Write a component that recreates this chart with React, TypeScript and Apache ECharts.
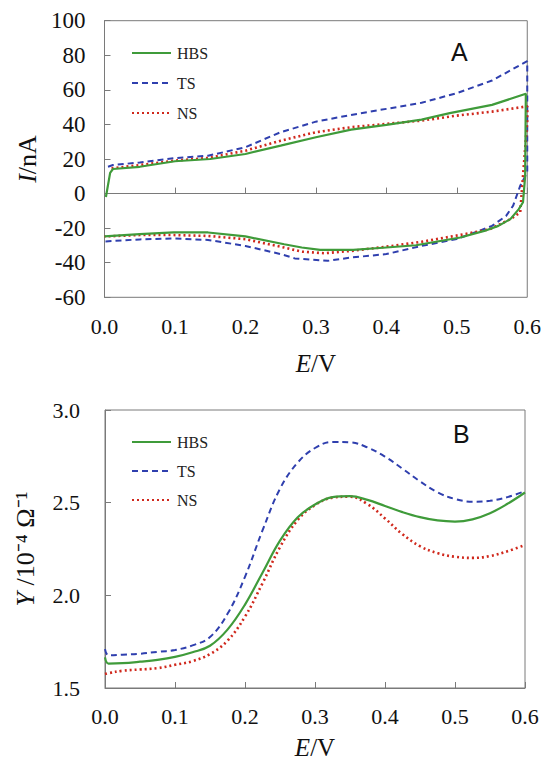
import React, { useEffect, useRef } from "react";
import * as echarts from "echarts";

// ---------- Panel A: cyclic voltammograms (E / V, I / nA) ----------
const hbsAE = [0.002, 0.008, 0.012, 0.05, 0.1, 0.15, 0.2, 0.25, 0.3, 0.35, 0.4, 0.45, 0.49, 0.55, 0.598, 0.597, 0.594, 0.588, 0.576, 0.559, 0.539, 0.505, 0.442, 0.4, 0.353, 0.306, 0.28, 0.255, 0.2, 0.147, 0.098, 0.05, 0.0];
const hbsAI = [-2, 12, 14.2, 15.5, 18.7, 20, 22.9, 27.7, 32.6, 37, 39.7, 42.8, 46.5, 51.3, 57.7, 10, -5, -9, -14.8, -18.7, -21.6, -25.4, -29.9, -31.2, -32.6, -32.6, -31.2, -29.3, -24.8, -22.5, -22.5, -23.4, -24.8];

const tsAE = [0.005, 0.012, 0.05, 0.098, 0.147, 0.2, 0.25, 0.3, 0.35, 0.4, 0.45, 0.5, 0.55, 0.6, 0.6, 0.59, 0.58, 0.57, 0.55, 0.52, 0.5, 0.45, 0.4, 0.35, 0.317, 0.27, 0.25, 0.2, 0.147, 0.098, 0.05, 0.0];
const tsAI = [15.5, 16.5, 18, 20.4, 21.9, 26.8, 35.5, 41.6, 45.5, 49, 52.5, 58.1, 65.4, 76.6, 12.3, 4.5, -7, -12.9, -18.7, -23.4, -26.3, -30.3, -35, -37, -38.9, -37.5, -35, -30.3, -26.8, -26, -26.5, -27.7];

const nsAE = [0.01, 0.05, 0.098, 0.147, 0.2, 0.25, 0.3, 0.35, 0.4, 0.45, 0.5, 0.55, 0.6, 0.6, 0.59, 0.576, 0.547, 0.512, 0.45, 0.4, 0.35, 0.312, 0.28, 0.255, 0.2, 0.147, 0.098, 0.05, 0.0];
const nsAI = [14.6, 16.5, 19, 20.6, 24.8, 30.6, 35.5, 38.4, 40.3, 42.2, 45.1, 47.4, 50.5, 42, -10.9, -14.8, -20.6, -23.4, -27.9, -30.7, -33.2, -34.5, -33.6, -31.2, -26.4, -24.5, -24, -24, -24.8];

// ---------- Panel B: admittance (E / V, Y / 10^-4 Ω^-1) ----------
const eB = [0, 0.005, 0.025, 0.05, 0.075, 0.1, 0.125, 0.15, 0.175, 0.2, 0.225, 0.25, 0.275, 0.3, 0.325, 0.35, 0.375, 0.4, 0.425, 0.45, 0.475, 0.5, 0.525, 0.55, 0.575, 0.6];
const hbsBY = [1.665, 1.632, 1.634, 1.642, 1.652, 1.668, 1.693, 1.728, 1.815, 1.95, 2.122, 2.295, 2.42, 2.49, 2.53, 2.535, 2.515, 2.482, 2.449, 2.422, 2.404, 2.398, 2.41, 2.443, 2.494, 2.555];
const tsBY = [1.71, 1.676, 1.68, 1.685, 1.695, 1.705, 1.73, 1.775, 1.9, 2.1, 2.35, 2.575, 2.715, 2.795, 2.828, 2.826, 2.798, 2.748, 2.683, 2.615, 2.556, 2.52, 2.505, 2.51, 2.53, 2.562];
const nsBY = [1.575, 1.58, 1.593, 1.6, 1.607, 1.625, 1.645, 1.683, 1.755, 1.885, 2.065, 2.26, 2.405, 2.487, 2.527, 2.532, 2.492, 2.415, 2.33, 2.265, 2.228, 2.208, 2.202, 2.212, 2.238, 2.272];

const seriesNames = ["HBS", "TS", "NS"];

const pairs = (xs: number[], ys: number[]) => xs.map((x, i) => [x, ys[i]]);

const SERIF = "Liberation Serif";
const GREEN = "#3f9b3a";
const BLUE = "#2f3fae";
const RED = "#d0281c";
const AXIS = "#7a7a7a";
const TEXT = "#111";

export default function App() {
  const ref = useRef<HTMLDivElement>(null);

  useEffect(() => {
    if (!ref.current) return;
    const chart = echarts.init(ref.current, undefined, { renderer: "svg" });

    const axisCommon = {
      axisLine: { show: true, lineStyle: { color: AXIS, width: 1 } },
      axisTick: { show: true, inside: true, length: 6, lineStyle: { color: AXIS } },
      splitLine: { show: false },
    };

    const italicName = (size: number) => ({
      fontFamily: SERIF,
      fontSize: size,
      color: TEXT,
      rich: { i: { fontFamily: SERIF, fontSize: size, fontStyle: "italic", color: TEXT } },
    });

    const xAxisFor = (gridIndex: number, gap: number, margin: number) => ({
      type: "value",
      gridIndex,
      min: 0,
      max: 0.6,
      interval: 0.1,
      ...axisCommon,
      axisLabel: {
        margin,
        fontFamily: SERIF,
        fontSize: 22,
        color: TEXT,
        formatter: (v: number) => v.toFixed(1),
      },
      name: "{i|E}/V",
      nameLocation: "middle",
      nameGap: gap,
      nameTextStyle: italicName(25),
    });

    const lineStyleFor = (name: string) => {
      if (name === "HBS") return { color: GREEN, width: 2.2, type: "solid" };
      if (name === "TS") return { color: BLUE, width: 2, type: [6, 4] };
      return { color: RED, width: 2.6, type: [2, 3] };
    };

    const mkSeries = (name: string, idx: number, data: number[][], smooth: boolean | number) => ({
      type: "line",
      name,
      xAxisIndex: idx,
      yAxisIndex: idx,
      data,
      smooth,
      showSymbol: false,
      symbol: "none",
      color: lineStyleFor(name).color,
      lineStyle: lineStyleFor(name),
      z: name === "HBS" ? 4 : name === "NS" ? 3 : 2,
    });

    const legendFor = (top: number, gap: number) => ({
      data: seriesNames,
      orient: "vertical",
      left: 126,
      top,
      itemWidth: 39,
      itemHeight: 14,
      itemGap: gap,
      selectedMode: false,
      itemStyle: { opacity: 0, borderWidth: 0 },
      textStyle: { fontFamily: SERIF, fontSize: 16, color: "#222", padding: [0, 0, 0, 1] },
    });

    const option: any = {
      animation: false,
      backgroundColor: "#fff",
      grid: [
        { left: 104.5, top: 20.7, width: 425.5, height: 276.6, show: true, borderColor: AXIS, borderWidth: 1 },
        { left: 105, top: 410, width: 420, height: 279, show: true, borderColor: AXIS, borderWidth: 1 },
      ],
      legend: [legendFor(40, 14), legendFor(429, 13)],
      xAxis: [xAxisFor(0, 54, 18), xAxisFor(1, 47, 17)],
      yAxis: [
        {
          type: "value",
          gridIndex: 0,
          min: -60,
          max: 100,
          interval: 20,
          ...axisCommon,
          axisLabel: { margin: 19, fontFamily: SERIF, fontSize: 23, color: TEXT },
          name: "{i|I}/nA",
          nameLocation: "middle",
          nameGap: 63,
          nameRotate: 90,
          nameTextStyle: italicName(26),
        },
        {
          type: "value",
          gridIndex: 1,
          min: 1.5,
          max: 3.0,
          interval: 0.5,
          ...axisCommon,
          axisLabel: {
            margin: 25,
            fontFamily: SERIF,
            fontSize: 22,
            color: TEXT,
            formatter: (v: number) => v.toFixed(1),
          },
          name: "{i|Y} /10⁻⁴ Ω⁻¹",
          nameLocation: "middle",
          nameGap: 67,
          nameRotate: 90,
          nameTextStyle: italicName(26),
        },
      ],
      graphic: [
        { type: "text", left: 451, top: 39.5, style: { text: "A", font: "25px 'Liberation Sans'", fill: TEXT } },
        { type: "text", left: 453, top: 421, style: { text: "B", font: "25px 'Liberation Sans'", fill: TEXT } },
      ],
      series: [
        mkSeries("HBS", 0, pairs(hbsAE, hbsAI), false),
        mkSeries("TS", 0, pairs(tsAE, tsAI), false),
        mkSeries("NS", 0, pairs(nsAE, nsAI), false),
        mkSeries("HBS", 1, pairs(eB, hbsBY), 0.4),
        mkSeries("TS", 1, pairs(eB, tsBY), 0.4),
        mkSeries("NS", 1, pairs(eB, nsBY), 0.4),
      ],
    };

    chart.setOption(option);
    return () => chart.dispose();
  }, []);

  return (
    <div
      ref={ref}
      style={{ position: "fixed", left: 0, top: 0, width: 544, height: 761, background: "#fff" }}
    />
  );
}
